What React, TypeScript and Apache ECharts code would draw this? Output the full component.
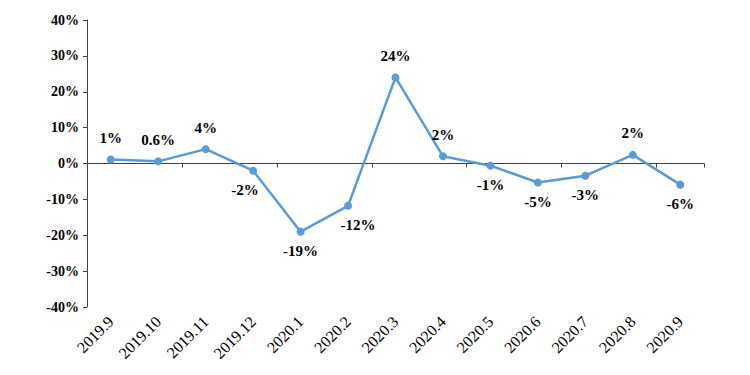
import React, { useEffect, useRef } from "react";
import * as echarts from "echarts";

const categories = ["2019.9", "2019.10", "2019.11", "2019.12", "2020.1", "2020.2", "2020.3", "2020.4", "2020.5", "2020.6", "2020.7", "2020.8", "2020.9"];
const values = [1.1, 0.6, 4, -2, -19, -11.8, 24, 2, -0.6, -5.3, -3.4, 2.4, -5.9];
const labels = ["1%", "0.6%", "4%", "-2%", "-19%", "-12%", "24%", "2%", "-1%", "-5%", "-3%", "2%", "-6%"];
const yTicks = [-40, -30, -20, -10, 0, 10, 20, 30, 40];

const FONT = "'Liberation Serif', 'Times New Roman', serif";

export default function App() {
  const ref = useRef<HTMLDivElement>(null);
  useEffect(() => {
    if (!ref.current) return;
    const chart = echarts.init(ref.current, null, { renderer: "svg" });
    chart.setOption({
      animation: false,
      grid: { left: 87, right: 46, top: 20, bottom: 68 },
      xAxis: [
        {
          type: "category",
          data: categories,
          boundaryGap: true,
          axisLine: { onZero: true, lineStyle: { color: "#404040", width: 1 } },
          axisTick: { show: true, alignWithLabel: false, length: 4, lineStyle: { color: "#404040" } },
          axisLabel: { show: false },
        },
        {
          type: "category",
          data: categories,
          position: "bottom",
          boundaryGap: true,
          axisLine: { show: false, onZero: false },
          axisTick: { show: false },
          axisLabel: {
            rotate: 45,
            margin: 12,
            fontFamily: FONT,
            fontSize: 16,
            color: "#000",
          },
        },
      ],
      yAxis: {
        type: "value",
        min: -40,
        max: 40,
        interval: 10,
        splitLine: { show: false },
        axisLine: { show: true, lineStyle: { color: "#404040" } },
        axisTick: { show: true, length: 4, lineStyle: { color: "#404040" } },
        axisLabel: {
          fontFamily: FONT,
          fontWeight: "bold",
          fontSize: 14,
          color: "#000",
          margin: 8,
          formatter: (v: number) => (yTicks.includes(v) ? `${v}%` : ""),
        },
      },
      series: [
        {
          type: "line",
          xAxisIndex: 0,
          data: values.map((v, i) => ({
            value: v,
            label: {
              position: v >= 0 ? "top" : "bottom",
              distance: v >= 0 ? 10 : 8,
              offset: i === 3 ? [-8, 0] : i === 5 ? [10, 0] : [0, 0],
            },
          })),
          symbol: "circle",
          symbolSize: 8,
          lineStyle: { color: "#5B9BD5", width: 2.5 },
          itemStyle: { color: "#5B9BD5" },
          label: {
            show: true,
            fontFamily: FONT,
            fontWeight: "bold",
            fontSize: 15,
            color: "#000",
            formatter: (p: any) => labels[p.dataIndex],
          },
        },
      ],
    });
    return () => chart.dispose();
  }, []);
  return <div ref={ref} style={{ width: 750, height: 375, position: "absolute", left: 0, top: 0, background: "#fff" }} />;
}
